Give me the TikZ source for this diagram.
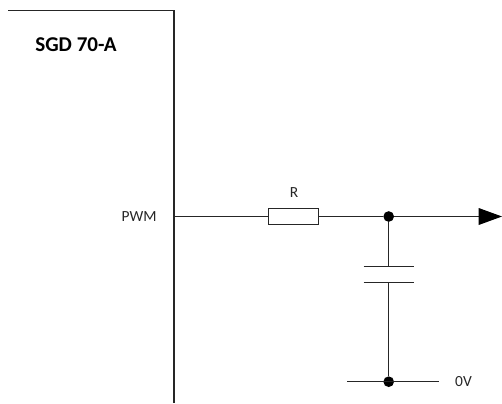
\documentclass[tikz,border=0pt]{standalone}
\usepackage{fontspec}
\setmainfont{Carlito}
\tikzset{
  wire/.style={line width=0.95pt,draw=black!85},
  lbl/.style={inner sep=0pt,font=\fontsize{11.6pt}{13pt}\selectfont,text=black!85},
  title/.style={inner sep=0pt,font=\fontsize{15.8pt}{18pt}\selectfont\bfseries},
  res/.style={draw=black!85,line width=0.95pt,fill=white,minimum width=37.5pt,minimum height=12pt,inner sep=0pt,outer sep=0pt},
  junction/.style={circle,fill=black,minimum size=8pt,inner sep=0pt,outer sep=0pt}
}
\begin{document}
\begin{tikzpicture}[x=0.75pt,y=-0.75pt]
\useasboundingbox (0,0) rectangle (502,403);
\coordinate (tl) at (8,10.5);
\coordinate (tr) at (174,10.5);
\coordinate (bl) at (174,403);
\coordinate (pin) at (174,216.5);
\coordinate (end) at (480,216.5);
\coordinate (c1) at (388.7,266.5);
\coordinate (c2) at (388.7,282.5);
\coordinate (c1l) at (363.5,266.5);
\coordinate (c1r) at (414,266.5);
\coordinate (c2l) at (363.5,282.5);
\coordinate (c2r) at (414,282.5);
\coordinate (gl) at (347,381.7);
\coordinate (gr) at (438.5,381.7);
\node[res] (r) at (293.5,216.5) {};
\node[junction] (j1) at (388.7,216.5) {};
\node[junction] (j2) at (388.7,381.7) {};
\draw[wire] (tl) -- (tr) -- (bl);
\draw[wire] (pin) -- (r.west);
\draw[wire] (r.east) -- (j1);
\draw[wire] (j1) -- (end);
\draw[wire] (j1) -- (c1);
\draw[wire] (c1l) -- (c1r);
\draw[wire] (c2l) -- (c2r);
\draw[wire] (c2) -- (j2);
\draw[wire] (gl) -- (gr);
\fill[black] (478.7,208) -- (502,216.5) -- (478.7,225) -- cycle;
\node[title] (t) at (76,44.5) {SGD 70-A};
\node[lbl] (p) at (139,217) {PWM};
\node[lbl] (rl) at (294,193) {R};
\node[lbl] (v) at (463.5,381.5) {0V};
\end{tikzpicture}
\end{document}
